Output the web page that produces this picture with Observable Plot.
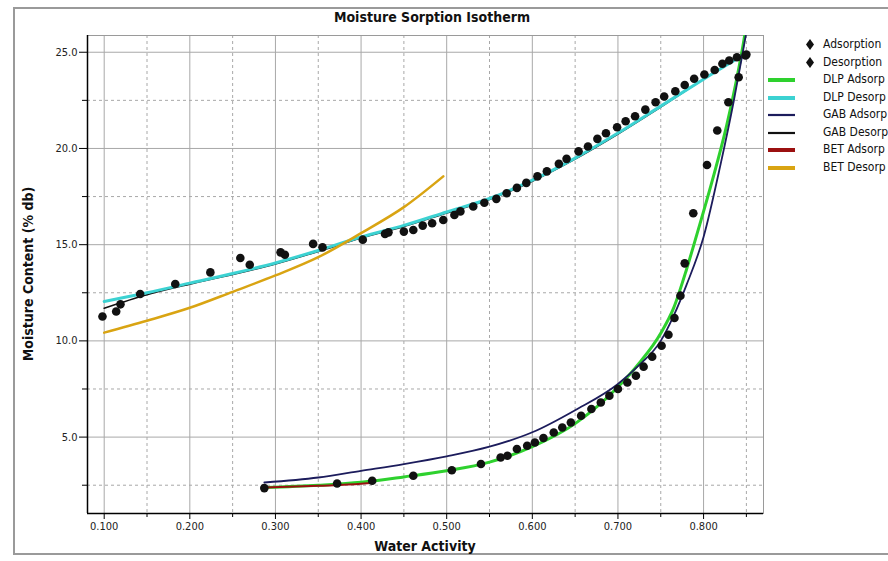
<!DOCTYPE html>
<html>
<head>
<meta charset="utf-8">
<script src="https://cdn.jsdelivr.net/npm/d3@7"></script>
<script src="https://cdn.jsdelivr.net/npm/@observablehq/plot@0.6"></script>
<style>
  html, body { margin: 0; padding: 0; background: #fff; }
  #wrap { position: relative; width: 888px; height: 561px; overflow: hidden; background: #fff;
          font-family: "Liberation Sans Narrow", "DejaVu Sans Condensed", "Liberation Sans", sans-serif; }
  #border { position: absolute; left: 13px; top: 7px; width: 900px; height: 548px; border: 2px solid #9a9a9a; box-sizing: border-box; }
  #title { position: absolute; left: 0; width: 864px; top: 9px; text-align: center; font-weight: bold; font-size: 14px; color: #111; }
  #xlabel { position: absolute; left: 87px; width: 676px; top: 538px; text-align: center; font-weight: bold; font-size: 14px; color: #111; }
  #ylabel { position: absolute; left: 28px; top: 274px; transform: translate(-50%, -50%) rotate(-90deg); white-space: nowrap;
            font-weight: bold; font-size: 14px; color: #111; }
  #legend { position: absolute; left: 765px; top: 36px; font-size: 12px; color: #111; }
  .row { position: relative; height: 17.5px; width: 140px; }
  .row svg { position: absolute; left: 0; top: 0; }
  .row span { position: absolute; left: 58px; top: 1px; white-space: nowrap; }
  #chart { position: absolute; left: 0; top: 0; }
</style>
</head>
<body>
<div id="wrap">
  <div id="border"></div>
  <div id="chart"></div>
  <div id="title">Moisture Sorption Isotherm</div>
  <div id="xlabel">Water Activity</div>
  <div id="ylabel">Moisture Content (% db)</div>
  <div id="legend"></div>
</div>
<script>
// ---- tick values ----
const xMajorTicks = [0.1, 0.2, 0.3, 0.4, 0.5, 0.6, 0.7, 0.8];
const xMinorTicks = [0.15, 0.25, 0.35, 0.45, 0.55, 0.65, 0.75, 0.85];
const yMajorTicks = [5, 10, 15, 20, 25];
const yMinorTicks = [2.5, 7.5, 12.5, 17.5, 22.5];
const xDomain = [0.0805, 0.870];
const yDomain = [1.03, 25.87];

// ---- measured points ----
const desorptionAw = [0.098, 0.114, 0.119, 0.142, 0.183, 0.224, 0.259, 0.27, 0.306, 0.311, 0.344, 0.355, 0.402, 0.428, 0.432,
  0.45, 0.461, 0.472, 0.483, 0.496, 0.509, 0.516, 0.531, 0.544, 0.558, 0.57, 0.582, 0.593, 0.606, 0.617, 0.631, 0.64,
  0.654, 0.665, 0.676, 0.686, 0.699, 0.709, 0.72, 0.732, 0.744, 0.754, 0.767, 0.778, 0.789, 0.801, 0.813, 0.822, 0.83, 0.839, 0.85];
const desorptionMc = [11.27, 11.53, 11.9, 12.44, 12.96, 13.56, 14.31, 13.96, 14.6, 14.48, 15.04, 14.86, 15.26, 15.56, 15.64,
  15.68, 15.76, 15.99, 16.11, 16.28, 16.54, 16.73, 16.98, 17.18, 17.38, 17.67, 17.95, 18.21, 18.55, 18.81, 19.2, 19.46,
  19.85, 20.1, 20.5, 20.79, 21.1, 21.41, 21.67, 22.02, 22.4, 22.7, 22.97, 23.3, 23.62, 23.84, 24.08, 24.4, 24.57, 24.74, 24.88];

const adsorptionAw = [0.287, 0.372, 0.413, 0.461, 0.506, 0.54, 0.563, 0.571, 0.582, 0.594, 0.603, 0.613, 0.625, 0.635, 0.645,
  0.657, 0.669, 0.68, 0.69, 0.7, 0.711, 0.721, 0.73, 0.74, 0.751, 0.759, 0.766, 0.773, 0.778, 0.788, 0.804, 0.816, 0.829, 0.841, 0.849];
const adsorptionMc = [2.35, 2.59, 2.73, 2.99, 3.28, 3.6, 3.94, 4.03, 4.38, 4.55, 4.72, 4.95, 5.24, 5.5, 5.76,
  6.11, 6.46, 6.8, 7.15, 7.5, 7.84, 8.19, 8.66, 9.18, 9.75, 10.32, 11.19, 12.35, 14.03, 16.63, 19.14, 20.93, 22.4, 23.7, 24.83];

// ---- fitted curves ----
const dlpAdsAw = [0.287, 0.35, 0.4, 0.45, 0.5, 0.55, 0.6, 0.65, 0.7, 0.725, 0.75, 0.765, 0.78, 0.79, 0.81, 0.827, 0.84, 0.847, 0.852];
const dlpAdsMc = [2.38, 2.5, 2.65, 2.93, 3.25, 3.7, 4.5, 5.7, 7.6, 8.85, 10.4, 11.7, 13.7, 15.2, 18.3, 21.2, 23.9, 25.6, 27.0];

const dlpDesAw = [0.1, 0.15, 0.2, 0.25, 0.3, 0.35, 0.4, 0.45, 0.5, 0.55, 0.6, 0.65, 0.7, 0.75, 0.8, 0.85];
const dlpDesMc = [12.05, 12.5, 13.0, 13.5, 14.05, 14.7, 15.4, 16.0, 16.7, 17.4, 18.35, 19.5, 20.8, 22.2, 23.6, 24.95];

const gabAdsAw = [0.287, 0.35, 0.4, 0.45, 0.5, 0.55, 0.6, 0.65, 0.7, 0.725, 0.75, 0.765, 0.78, 0.8, 0.82, 0.835, 0.845, 0.853];
const gabAdsMc = [2.64, 2.9, 3.25, 3.6, 4.0, 4.5, 5.25, 6.4, 7.76, 8.75, 10.0, 11.3, 12.9, 15.4, 19.2, 22.4, 24.8, 26.8];

const gabDesAw = [0.1, 0.15, 0.2, 0.25, 0.3, 0.35, 0.4, 0.45, 0.5, 0.55, 0.6, 0.65, 0.7, 0.75, 0.8, 0.85];
const gabDesMc = [11.7, 12.4, 12.95, 13.45, 14.0, 14.65, 15.35, 15.95, 16.65, 17.35, 18.3, 19.45, 20.75, 22.15, 23.6, 25.0];

const betAdsAw = [0.287, 0.35, 0.4, 0.413];
const betAdsMc = [2.38, 2.47, 2.57, 2.62];

const betDesAw = [0.1, 0.15, 0.2, 0.25, 0.3, 0.35, 0.4, 0.45, 0.496];
const betDesMc = [10.43, 11.05, 11.72, 12.55, 13.4, 14.35, 15.6, 16.95, 18.55];

// ---- series styling / legend ----
const seriesNames = ["Adsorption", "Desorption", "DLP Adsorp", "DLP Desorp", "GAB Adsorp", "GAB Desorp", "BET Adsorp", "BET Desorp"];
const seriesColors = ["#111111", "#111111", "#2ed12e", "#3cd2d2", "#1c1c5c", "#111111", "#9b1010", "#d9a412"];

const zip = (a, b) => a.map((v, i) => ({aw: v, mc: b[i]}));
const desorption = zip(desorptionAw, desorptionMc);
const adsorption = zip(adsorptionAw, adsorptionMc);
const dlpAds = zip(dlpAdsAw, dlpAdsMc);
const dlpDes = zip(dlpDesAw, dlpDesMc);
const gabAds = zip(gabAdsAw, gabAdsMc);
const gabDes = zip(gabDesAw, gabDesMc);
const betAds = zip(betAdsAw, betAdsMc);
const betDes = zip(betDesAw, betDesMc);

const lineOpts = (color, w) => ({x: "aw", y: "mc", stroke: color, strokeWidth: w, curve: "monotone-x", clip: true});

const chart = Plot.plot({
  width: 888,
  height: 561,
  marginLeft: 87,
  marginRight: 125,
  marginTop: 35,
  marginBottom: 48,
  x: {domain: xDomain, label: null},
  y: {domain: yDomain, label: null},
  style: {fontFamily: '"Liberation Sans Narrow", "DejaVu Sans Condensed", sans-serif', fontSize: "11px", color: "#222", background: "transparent"},
  marks: [
    Plot.gridX(xMajorTicks, {stroke: "#a8a8a8", strokeOpacity: 1}),
    Plot.gridX(xMinorTicks, {stroke: "#a8a8a8", strokeOpacity: 1, strokeDasharray: "3,3"}),
    Plot.gridY(yMajorTicks, {stroke: "#a8a8a8", strokeOpacity: 1}),
    Plot.gridY(yMinorTicks, {stroke: "#a8a8a8", strokeOpacity: 1, strokeDasharray: "3,3"}),
    Plot.frame({stroke: "#9a9a9a"}),
    Plot.ruleX([xDomain[0]], {stroke: "#000", strokeWidth: 1.5}),
    Plot.ruleY([yDomain[0]], {stroke: "#000", strokeWidth: 1.5}),
    Plot.axisX(xMajorTicks, {tickSize: 6, tickPadding: 3, tickFormat: d3.format(".3f"), label: null, stroke: "#000"}),
    Plot.axisX(xMinorTicks, {tickSize: 4, tickFormat: () => "", label: null, stroke: "#000"}),
    Plot.axisY(yMajorTicks, {tickSize: 8, tickPadding: 2, tickFormat: d3.format(".1f"), label: null, stroke: "#000"}),
    Plot.axisY(yMinorTicks, {tickSize: 5, tickFormat: () => "", label: null, stroke: "#000"}),
    Plot.line(gabDes, lineOpts(seriesColors[5], 1.6)),
    Plot.line(dlpAds, lineOpts(seriesColors[2], 3)),
    Plot.line(dlpDes, lineOpts(seriesColors[3], 3)),
    Plot.line(gabAds, lineOpts(seriesColors[4], 1.8)),
    Plot.line(betAds, lineOpts(seriesColors[6], 2)),
    Plot.line(betDes, lineOpts(seriesColors[7], 2.5)),
    Plot.dot(adsorption, {x: "aw", y: "mc", r: 4.3, fill: "#111", stroke: "none"}),
    Plot.dot(desorption, {x: "aw", y: "mc", r: 4.3, fill: "#111", stroke: "none"})
  ]
});
document.getElementById("chart").appendChild(chart);

// legend
const legend = document.getElementById("legend");
seriesNames.forEach((name, i) => {
  const row = document.createElement("div");
  row.className = "row";
  let sw;
  if (i < 2) {
    sw = `<svg width="56" height="17"><path d="M45,3 L49,8.5 L45,14 L41,8.5 Z" fill="${seriesColors[i]}"/></svg>`;
  } else {
    const w = (i === 4 || i === 5) ? 2.2 : 4;
    sw = `<svg width="56" height="17"><line x1="3" x2="30" y1="9" y2="9" stroke="${seriesColors[i]}" stroke-width="${w}"/></svg>`;
  }
  row.innerHTML = sw + `<span>${name}</span>`;
  legend.appendChild(row);
});
</script>
</body>
</html>
